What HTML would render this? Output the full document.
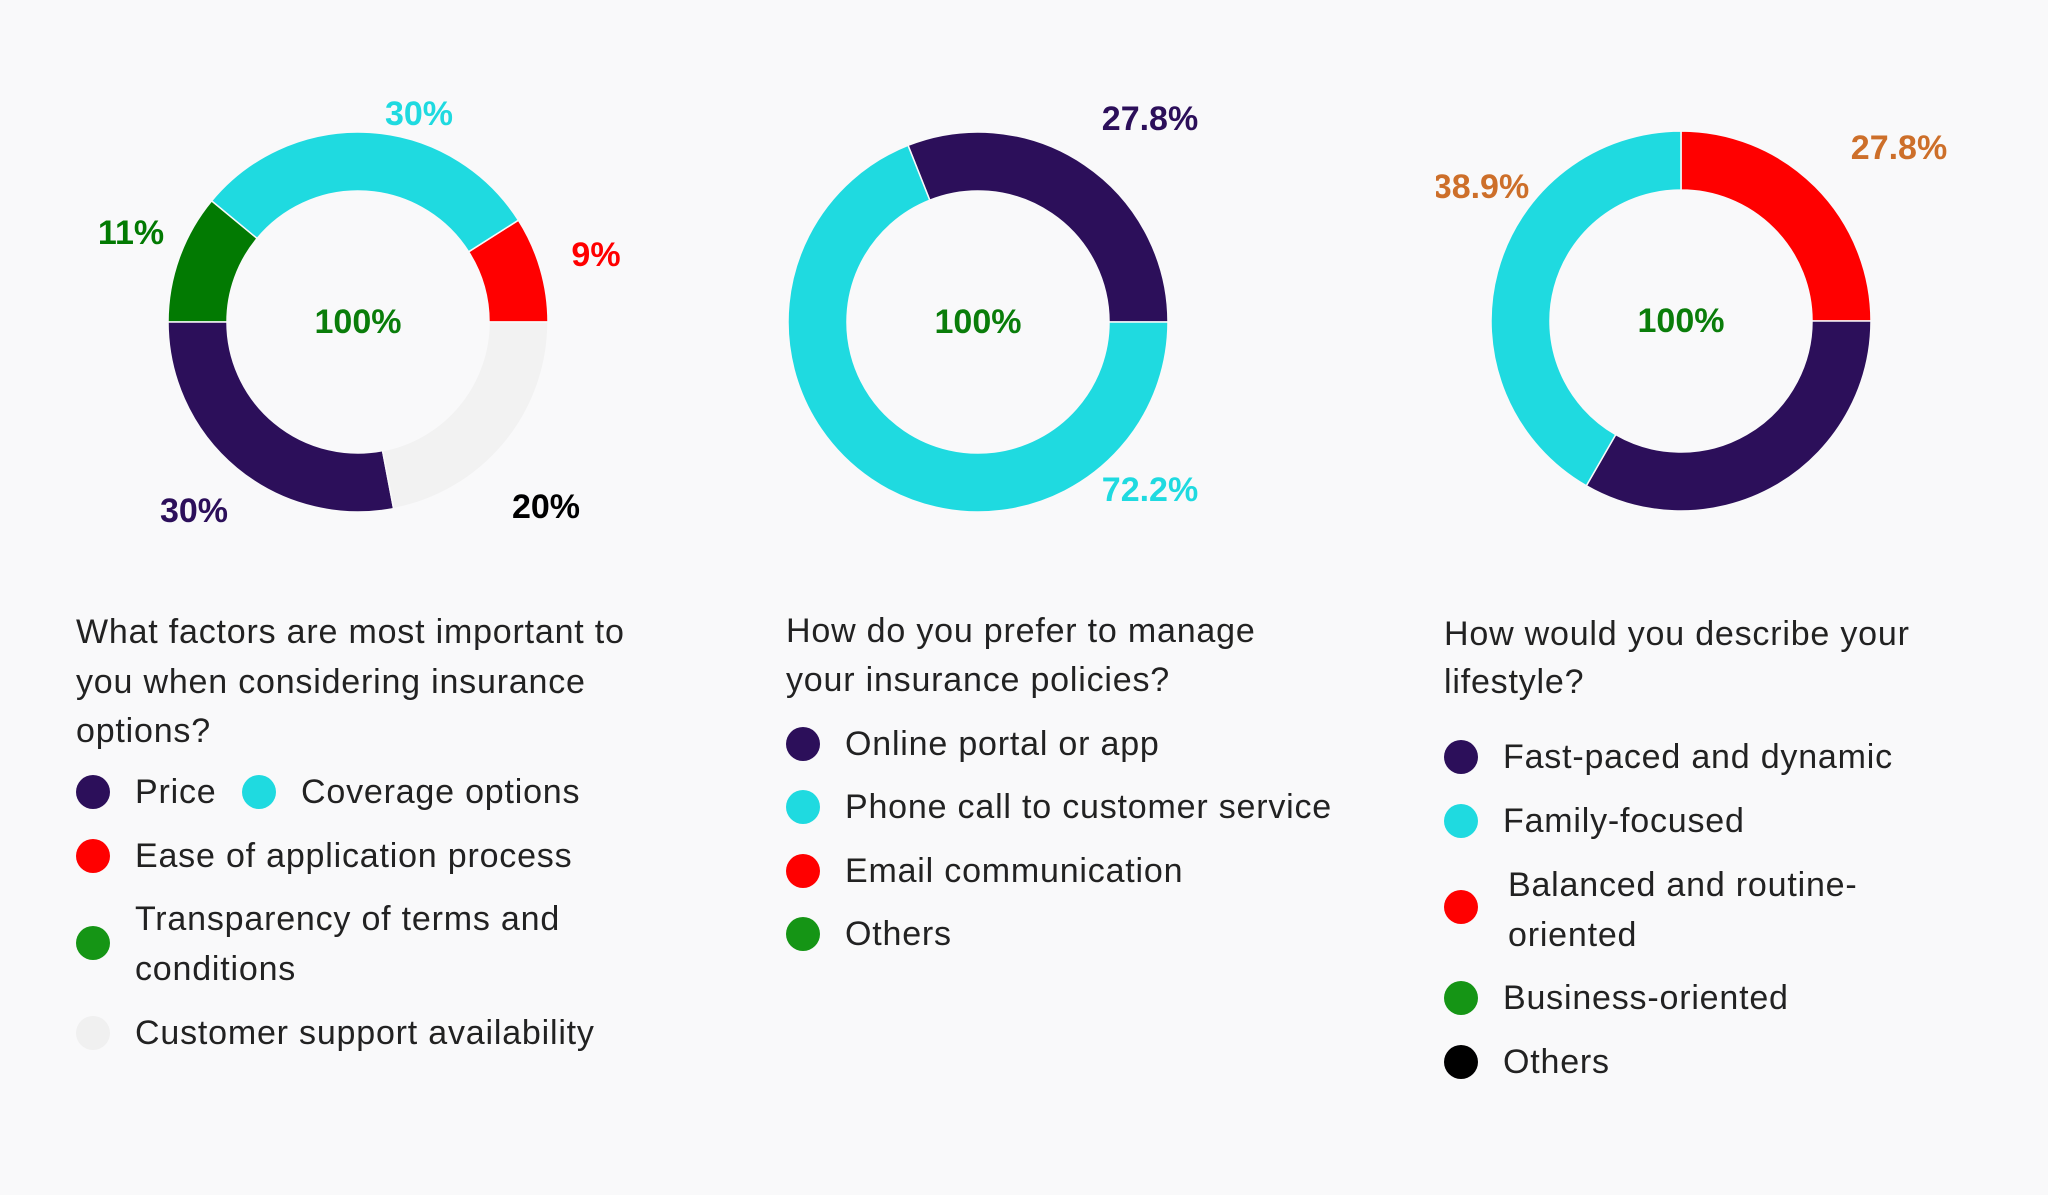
<!DOCTYPE html>
<html><head><meta charset="utf-8"><style>
html,body{margin:0;padding:0;background:#f9f9fa;}
svg{display:block;font-family:"Liberation Sans",sans-serif;}
.t{font-size:34px;fill:#222;letter-spacing:0.8px;}
.p{font-size:34px;font-weight:bold;}
</style></head><body>
<svg id="s" width="2048" height="1195" viewBox="0 0 2048 1195">
<defs><clipPath id="c3"><rect x="1436" y="0" width="612" height="1195"/></clipPath></defs>
<rect width="2048" height="1195" fill="#f9f9fa"/>
<g id="g1"></g>
<g id="g2"></g>
<g id="g3" clip-path="url(#c3)"></g>

<g>
<text class="t" x="76" y="643">What factors are most important to</text>
<text class="t" x="76" y="693">you when considering insurance</text>
<text class="t" x="76" y="742">options?</text>
<circle cx="93" cy="792" r="17" fill="#2c0f5a"/>
<text class="t" x="135" y="803">Price</text>
<circle cx="259" cy="792" r="17" fill="#1fdae0"/>
<text class="t" x="301" y="803">Coverage options</text>
<circle cx="93" cy="856" r="17" fill="#ff0000"/>
<text class="t" x="135" y="867">Ease of application process</text>
<circle cx="93" cy="943" r="17" fill="#159515"/>
<text class="t" x="135" y="930">Transparency of terms and</text>
<text class="t" x="135" y="980">conditions</text>
<circle cx="93" cy="1033" r="17" fill="#f0f0f0"/>
<text class="t" x="135" y="1044">Customer support availability</text>
</g>

<g>
<text class="t" x="786" y="642">How do you prefer to manage</text>
<text class="t" x="786" y="691">your insurance policies?</text>
<circle cx="803" cy="744" r="17" fill="#2c0f5a"/>
<text class="t" x="845" y="755">Online portal or app</text>
<circle cx="803" cy="807" r="17" fill="#1fdae0"/>
<text class="t" x="845" y="818">Phone call to customer service</text>
<circle cx="803" cy="871" r="17" fill="#ff0000"/>
<text class="t" x="845" y="882">Email communication</text>
<circle cx="803" cy="934" r="17" fill="#159515"/>
<text class="t" x="845" y="945">Others</text>
</g>

<g>
<text class="t" x="1444" y="645">How would you describe your</text>
<text class="t" x="1444" y="693">lifestyle?</text>
<circle cx="1461" cy="757" r="17" fill="#2c0f5a"/>
<text class="t" x="1503" y="768">Fast-paced and dynamic</text>
<circle cx="1461" cy="821" r="17" fill="#1fdae0"/>
<text class="t" x="1503" y="832">Family-focused</text>
<circle cx="1461" cy="907" r="17" fill="#ff0000"/>
<text class="t" x="1508" y="896">Balanced and routine-</text>
<text class="t" x="1508" y="946">oriented</text>
<circle cx="1461" cy="998" r="17" fill="#159515"/>
<text class="t" x="1503" y="1009">Business-oriented</text>
<circle cx="1461" cy="1062" r="17" fill="#000"/>
<text class="t" x="1503" y="1073">Others</text>
</g>

<g>
<text class="p" x="419" y="114" text-anchor="middle" dominant-baseline="central" fill="#1fdae0">30%</text>
<text class="p" x="131" y="233" text-anchor="middle" dominant-baseline="central" fill="#027a02">11%</text>
<text class="p" x="596" y="255" text-anchor="middle" dominant-baseline="central" fill="#ff0000">9%</text>
<text class="p" x="194" y="511" text-anchor="middle" dominant-baseline="central" fill="#2c0f5a">30%</text>
<text class="p" x="546" y="507" text-anchor="middle" dominant-baseline="central" fill="#000">20%</text>
<text class="p" x="1150" y="119" text-anchor="middle" dominant-baseline="central" fill="#2c0f5a">27.8%</text>
<text class="p" x="1150" y="490" text-anchor="middle" dominant-baseline="central" fill="#1fdae0">72.2%</text>
<g clip-path="url(#c3)">
<text class="p" x="1481" y="187" text-anchor="middle" dominant-baseline="central" fill="#cd6f2a">38.9%</text>
</g>
<text class="p" x="1899" y="148" text-anchor="middle" dominant-baseline="central" fill="#cd6f2a">27.8%</text>
</g>
</svg>
<script>
// Chart 1: slices counterclockwise from 3 o'clock
const c1Cats=["Ease of application process","Coverage options","Transparency of terms and conditions","Price","Customer support availability"];
const c1Values=[9,30,11,28,22];
// Chart 2
const c2Cats=["Online portal or app","Phone call to customer service"];
const c2Values=[31,69];
// Chart 3 (drawn proportions as seen), clockwise from top
const c3Cats=["Balanced and routine-oriented","Fast-paced and dynamic","Family-focused"];
const c3Values=[25,33.3,41.7];

const NS="http://www.w3.org/2000/svg";
function arc(cx,cy,ro,ri,a0,a1){
  const r=Math.PI/180,p=(R,a)=>[cx+R*Math.cos(a*r),cy-R*Math.sin(a*r)];
  const large=Math.abs(a1-a0)>180?1:0, sw=a1>a0?0:1;
  const [x0,y0]=p(ro,a0),[x1,y1]=p(ro,a1),[x2,y2]=p(ri,a1),[x3,y3]=p(ri,a0);
  return `M${x0},${y0}A${ro},${ro} 0 ${large} ${sw} ${x1},${y1}L${x2},${y2}A${ri},${ri} 0 ${large} ${1-sw} ${x3},${y3}Z`;
}
function donut(gid,cx,cy,vals,cols,dir,start){
  const g=document.getElementById(gid);
  const tot=vals.reduce((a,b)=>a+b,0);
  let a=start;
  vals.forEach((v,i)=>{
    const a1=a+v/tot*360*dir;
    const path=document.createElementNS(NS,"path");
    path.setAttribute("d",arc(cx,cy,190,131,a,a1));
    path.setAttribute("fill",cols[i]);
    path.setAttribute("stroke","#f9f9fa");path.setAttribute("stroke-width","1.5");
    
    
    g.appendChild(path);
    a=a1;
  });
  const c=document.createElementNS(NS,"text");
  c.setAttribute("x",cx);c.setAttribute("y",cy);
  c.setAttribute("text-anchor","middle");c.setAttribute("dominant-baseline","central");
  c.setAttribute("class","p");c.setAttribute("fill","#0a7d0a");
  c.textContent="100%";
  
  
  g.appendChild(c);
}
donut("g1",358,322,c1Values,["#ff0000","#1fdae0","#027a02","#2c0f5a","#f2f2f2"],1,0);
donut("g2",978,322,c2Values,["#2c0f5a","#1fdae0"],1,0);
donut("g3",1681,321,c3Values,["#ff0000","#2c0f5a","#1fdae0"],-1,90);
</script>
</body></html>
